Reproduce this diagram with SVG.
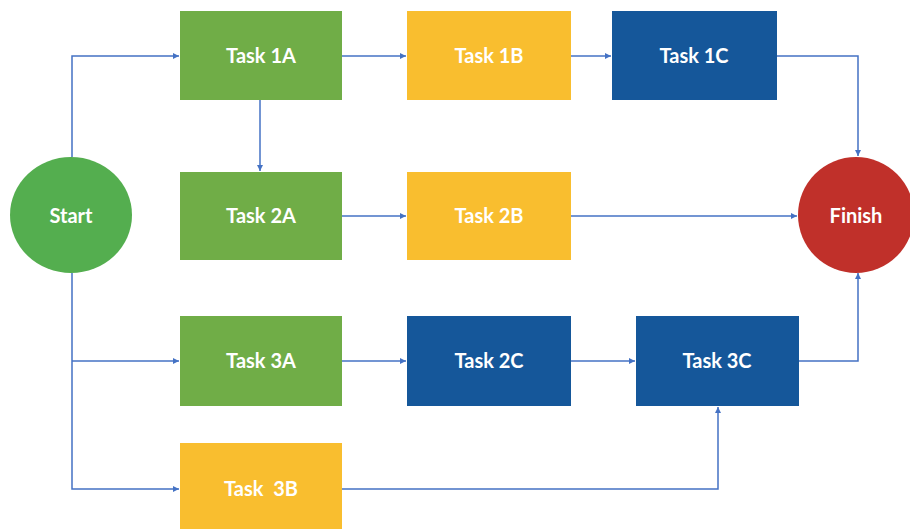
<svg xmlns="http://www.w3.org/2000/svg" width="910" height="529" viewBox="0 0 910 529">
<style>
.g{fill:#70AD47}.y{fill:#F9BE2F}.b{fill:#15579A}
text{font-family:Lato,"Open Sans","Liberation Sans",sans-serif;font-size:20px;font-weight:bold;fill:#fff;text-anchor:middle;dominant-baseline:central;white-space:pre}
.c path{fill:none;stroke:#4472C4;stroke-width:1.5;marker-end:url(#a)}
</style>
<defs>
<marker id="a" viewBox="0 0 10 10" refX="10" refY="5" markerWidth="6" markerHeight="6" markerUnits="userSpaceOnUse" orient="auto">
<path d="M0,0L10,5L0,10z" fill="#4472C4"/>
</marker>
</defs>
<rect width="910" height="529" fill="#fff"/>
<g class="c">
<path d="M72,157V56H179"/>
<path d="M72,273V489H179"/>
<path d="M72,361H179"/>
<path d="M260,100V171"/>
<path d="M342,56H406"/>
<path d="M571,56H611"/>
<path d="M777,56H858V156"/>
<path d="M342,216H406"/>
<path d="M571,216H797"/>
<path d="M342,361H406"/>
<path d="M571,361H635"/>
<path d="M799,361H858V273"/>
<path d="M342,489H718V407"/>
</g>
<g id="start"><ellipse cx="71" cy="215" rx="61" ry="58" fill="#54AE4F"/><text x="71" y="215">Start</text></g>
<g id="finish"><ellipse cx="856" cy="215" rx="58" ry="58" fill="#C0302A"/><text x="856" y="215">Finish</text></g>
<g id="t1a"><rect class="g" x="180" y="11" width="162" height="89"/><text x="261" y="55">Task 1A</text></g>
<g id="t1b"><rect class="y" x="407" y="11" width="164" height="89"/><text x="489" y="55">Task 1B</text></g>
<g id="t1c"><rect class="b" x="612" y="11" width="165" height="89"/><text x="694" y="55">Task 1C</text></g>
<g id="t2a"><rect class="g" x="180" y="172" width="162" height="88"/><text x="261" y="215">Task 2A</text></g>
<g id="t2b"><rect class="y" x="407" y="172" width="164" height="88"/><text x="489" y="215">Task 2B</text></g>
<g id="t3a"><rect class="g" x="180" y="316" width="162" height="90"/><text x="261" y="360">Task 3A</text></g>
<g id="t2c"><rect class="b" x="407" y="316" width="164" height="90"/><text x="489" y="360">Task 2C</text></g>
<g id="t3c"><rect class="b" x="636" y="316" width="163" height="90"/><text x="717" y="360">Task 3C</text></g>
<g id="t3b"><rect class="y" x="180" y="443" width="162" height="90"/><text x="261" y="488">Task  3B</text></g>
</svg>
